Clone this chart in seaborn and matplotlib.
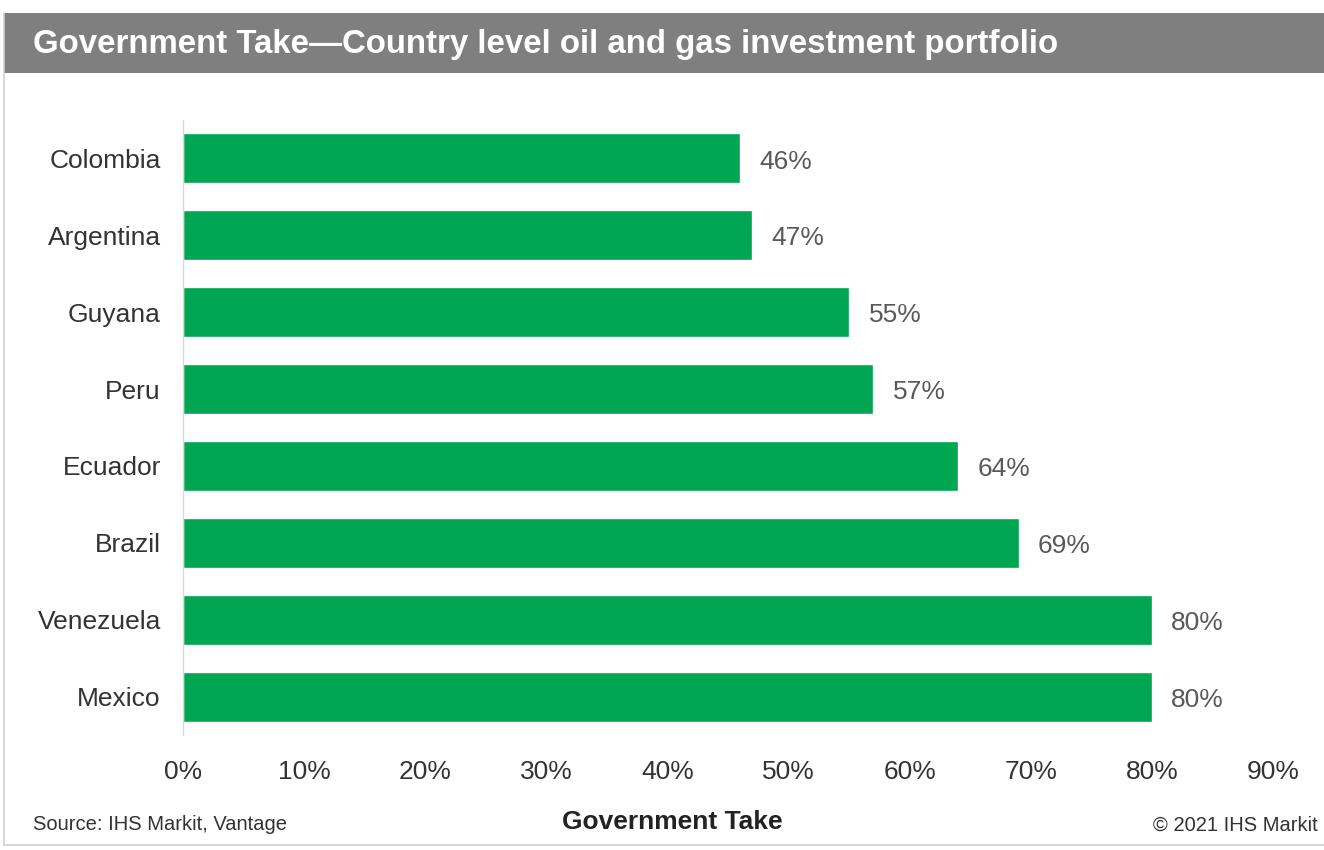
import matplotlib
matplotlib.use("Agg")
import matplotlib.pyplot as plt
import seaborn as sns
import pandas as pd
from matplotlib.patches import Rectangle
from matplotlib.ticker import FuncFormatter

countries = ["Colombia", "Argentina", "Guyana", "Peru", "Ecuador", "Brazil", "Venezuela", "Mexico"]
government_take = [46, 47, 55, 57, 64, 69, 80, 80]
x_ticks = [0, 10, 20, 30, 40, 50, 60, 70, 80, 90]

title = "Government Take\u2014Country level oil and gas investment portfolio"
x_label = "Government Take"
source = "Source: IHS Markit, Vantage"
copyright_note = "\u00a9 2021 IHS Markit"

df = pd.DataFrame({"country": countries, "take": government_take})

sns.set_theme(style="white")
plt.rcParams["font.family"] = ["Liberation Sans", "DejaVu Sans"]

W, H = 1324, 850
fig = plt.figure(figsize=(W / 100, H / 100), dpi=100)
fig.patch.set_facecolor("white")

# header band
fig.patches.append(Rectangle((4 / W, 1 - 73 / H), 1 - 4 / W, 60 / H,
                             transform=fig.transFigure, facecolor="#7f7f7f",
                             edgecolor="none", zorder=0))
# frame lines at the left and bottom
fig.add_artist(plt.Line2D([4 / W, 4 / W], [1 - 845 / H, 1 - 13 / H],
                          transform=fig.transFigure, color="#d0d0d0", lw=1.2))
fig.add_artist(plt.Line2D([4 / W, 1], [1 - 845 / H, 1 - 845 / H],
                          transform=fig.transFigure, color="#d0d0d0", lw=1.2))

fig.text(33 / W, 1 - 45 / H, title, color="white", fontsize=23.8, fontweight="bold",
         ha="left", va="center")

ax = fig.add_axes([183 / W, 1 - 735 / H, (1273 - 183) / W, (735 - 120) / H])
sns.barplot(data=df, x="take", y="country", orient="h", color="#00a651",
            saturation=1, width=0.65, ax=ax)

ax.set_xlim(0, 90)
ax.set_ylim(len(countries) - 0.5, -0.5)
ax.set_xticks(x_ticks)
ax.xaxis.set_major_formatter(FuncFormatter(lambda v, p: f"{v:.0f}%"))
ax.tick_params(axis="x", length=0, pad=18, labelsize=19, labelcolor="#333333")
ax.tick_params(axis="y", length=0, pad=16, labelsize=19, labelcolor="#333333")
ax.set_xlabel("")
ax.set_ylabel("")

for side in ["top", "right", "bottom"]:
    ax.spines[side].set_visible(False)
ax.spines["left"].set_color("#d9d9d9")
ax.spines["left"].set_linewidth(1.0)

for patch, v in zip(ax.patches, government_take):
    y = patch.get_y() + patch.get_height() / 2
    ax.text(v + 1.6, y + 0.04, f"{v}%", va="center", ha="left", fontsize=19, color="#595959")

fig.text(672 / W, 1 - 822 / H, x_label, ha="center", va="center", fontsize=19,
         fontweight="bold", color="#222222")
fig.text(33 / W, 1 - 825 / H, source, ha="left", va="center", fontsize=14.5, color="#333333")
fig.text(1318 / W, 1 - 825 / H, copyright_note, ha="right", va="center", fontsize=14.5,
         color="#333333")

fig.savefig("out.png", dpi=100, facecolor="white")
